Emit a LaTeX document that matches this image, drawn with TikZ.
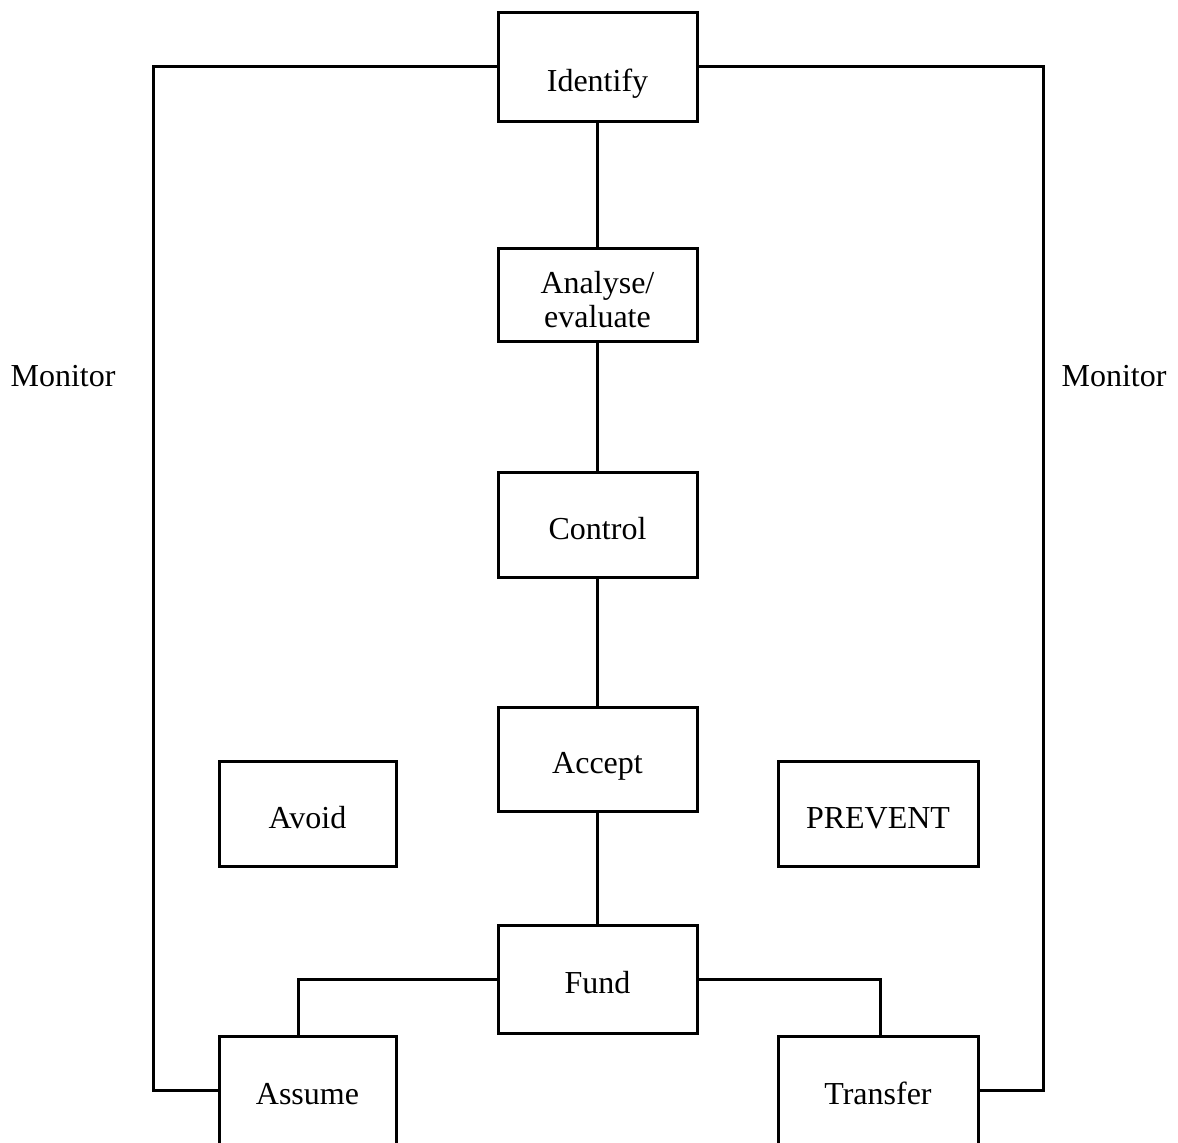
\documentclass[tikz,border=0pt]{standalone}
\usepackage{fontspec}
\setmainfont{Liberation Serif}
\usepackage{tikz}
\usetikzlibrary{positioning}

\tikzset{
  stage/.style={draw, line width=1.5pt, inner sep=0pt, align=center,
    minimum width=99.5pt, minimum height=52.5pt,
    text height=18pt, text depth=3.5pt,
    font=\fontsize{16}{17}\selectfont},
  side/.style={stage, minimum width=88.5pt},
  link/.style={line width=1.5pt},
  tag/.style={font=\fontsize{16}{17}\selectfont}
}

\begin{document}
\begin{tikzpicture}[x=0.5pt, y=-0.5pt]
      \useasboundingbox (0,0) rectangle (1178,1142);
      % main column
      \node[stage, minimum height=54.5pt, text height=28pt] (identify) at (597.5,66.5) {Identify};
      \node[stage, minimum height=46.5pt, text height=35.5pt, text depth=3pt] (analyse) at (597.5,294.5) {Analyse/\\evaluate};
      \node[stage] (control) at (597.5,524.5) {Control};
      \node[stage, minimum height=52pt] (accept) at (597.5,759) {Accept};
      \node[stage, minimum height=54pt] (fund) at (597.5,979) {Fund};
      % side boxes
      \node[side] (avoid) at (307.5,813.5) {Avoid};
      \node[stage, minimum width=100pt] (prevent) at (878,813.5) {PREVENT};
      \node[side, minimum height=54pt] (assume) at (307.5,1090) {Assume};
      \node[stage, minimum width=100pt, minimum height=54pt] (transfer) at (878,1090) {Transfer};
      % loop labels
      \node[tag] (monitorL) at (63,376) {Monitor};
      \node[tag] (monitorR) at (1114,376) {Monitor};
      \coordinate (leftrail) at (153,600);
      \coordinate (rightrail) at (1043,600);
      \coordinate (assumetop) at (298,1036);
      \coordinate (transfertop) at (880,1036);
      % connectors
      \draw[link] (identify) -- (analyse);
      \draw[link] (analyse) -- (control);
      \draw[link] (control) -- (accept);
      \draw[link] (accept) -- (fund);
      \draw[link] (identify.west) -| (leftrail) |- (assume.west);
      \draw[link] (identify.east) -| (rightrail) |- (transfer.east);
      \draw[link] (fund.west) -| (assumetop);
      \draw[link] (fund.east) -| (transfertop);
\end{tikzpicture}
\end{document}
